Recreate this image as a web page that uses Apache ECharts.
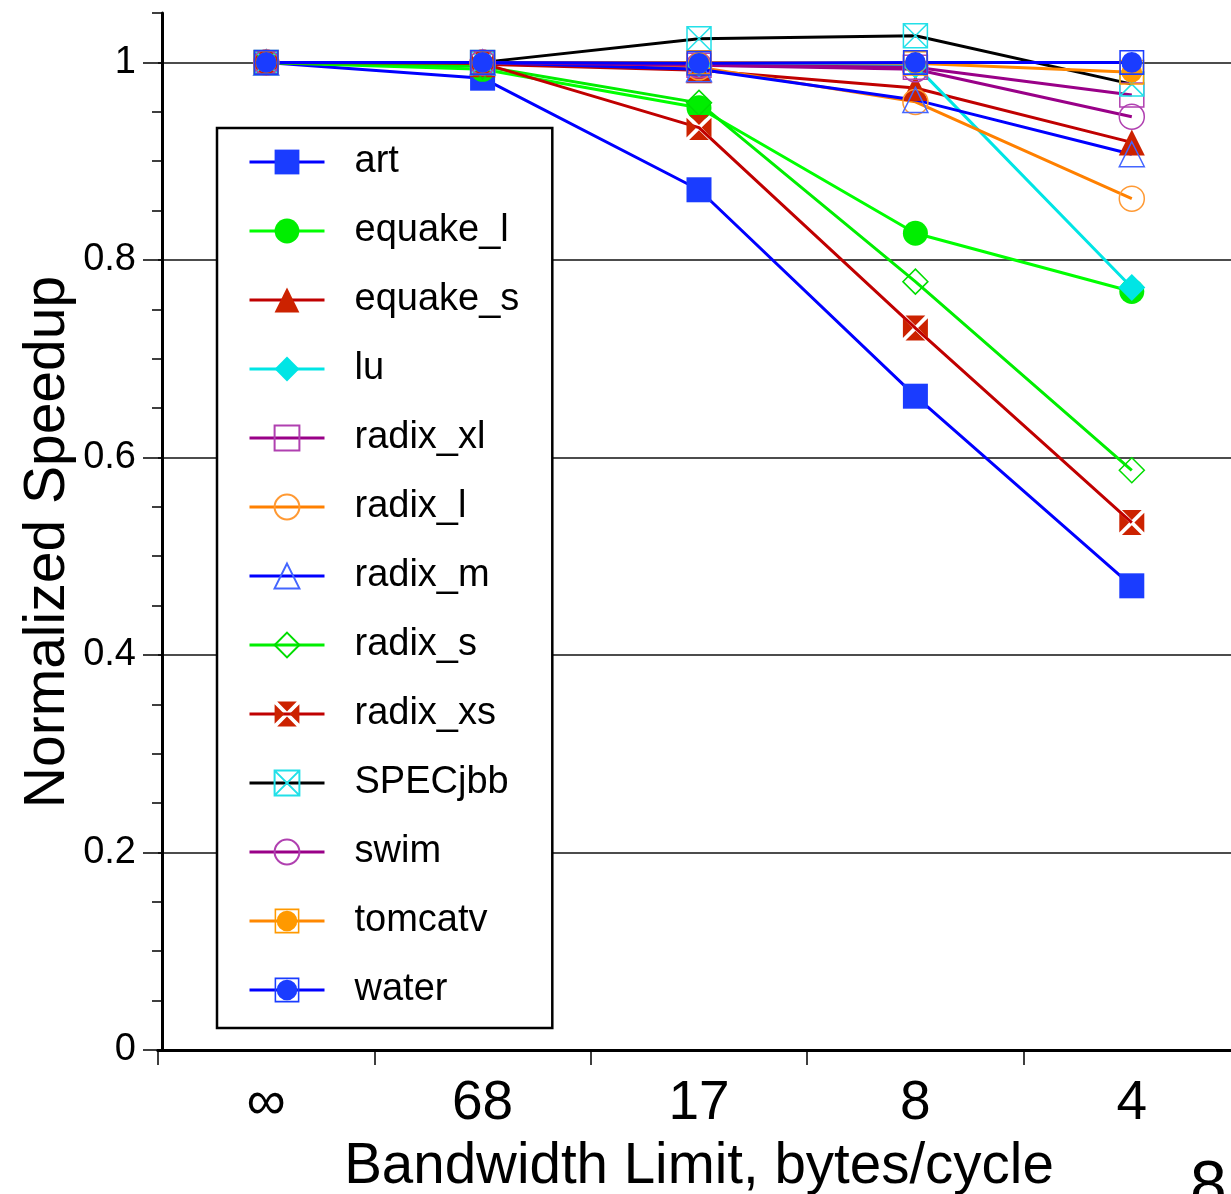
<!DOCTYPE html>
<html>
<head>
<meta charset="utf-8">
<script src="https://cdn.jsdelivr.net/npm/echarts@6/dist/echarts.min.js"></script>
<style>
html, body { margin: 0; padding: 0; background: #fff; overflow: hidden; }
#container { width: 1262px; height: 1194px; }
</style>
</head>
<body>
<div id="container"></div>
<script>
// bandwidth limits (bytes/cycle)
var categories = ['∞', '68', '17', '8', '4'];

// normalized speedup per benchmark
var art      = [1, 0.984, 0.871, 0.662, 0.470];
var equake_l = [1, 0.993, 0.954, 0.827, 0.768];
var equake_s = [1, 0.998, 0.992, 0.974, 0.919];
var lu       = [1, 1.000, 0.998, 0.997, 0.772];
var radix_xl = [1, 1.000, 0.997, 0.995, 0.967];
var radix_l  = [1, 1.000, 0.995, 0.960, 0.862];
var radix_m  = [1, 1.000, 0.993, 0.962, 0.907];
var radix_s  = [1, 0.996, 0.959, 0.778, 0.587];
var radix_xs = [1, 0.999, 0.934, 0.731, 0.534];
var specjbb  = [1, 1.000, 1.024, 1.027, 0.978];
var swim     = [1, 1.000, 0.997, 0.993, 0.945];
var tomcatv  = [1, 1.000, 1.000, 0.999, 0.990];
var water    = [1, 1.000, 0.999, 1.000, 1.000];

var yTicks = [0, 0.2, 0.4, 0.6, 0.8, 1];

var FONT = 'Liberation Sans, Arial, Helvetica, sans-serif';
var NONE = 'rgba(0,0,0,0)';

// custom marker shapes
var XS_PATH = 'path://M2.5 0H21.5L12 9.5Z M2.5 24H21.5L12 14.5Z M0 2.5V21.5L9.5 12Z M24 2.5V21.5L14.5 12Z';
var BOXX_PATH = 'path://M0 0H24V24H0Z M0 0L24 24 M24 0L0 24';
var BOXDOT_PATH = 'path://M0 0H24V24H0Z M1.5 1.5V22.5H22.5V1.5Z M12 2A10 10 0 1 0 12 22A10 10 0 1 0 12 2Z';

function mk(name, data, lineColor, symbol, size, fill, border) {
    return {
        name: name,
        type: 'line',
        data: data,
        symbol: symbol,
        symbolSize: size,
        showAllSymbol: true,
        yAxisIndex: 1,
        lineStyle: { color: lineColor, width: 3 },
        itemStyle: {
            color: fill,
            borderColor: border || fill,
            borderWidth: border ? 1.5 : 0
        },
        emphasis: { disabled: true }
    };
}

var series = [
    mk('art', art, '#0000ff', 'rect', 25, '#1a3cff'),
    mk('equake_l', equake_l, '#00ff00', 'circle', 25, '#00ee00'),
    mk('equake_s', equake_s, '#c00000', 'triangle', 26, '#cc2200'),
    mk('lu', lu, '#00e5e5', 'diamond', 27, '#00e5e5'),
    mk('radix_xl', radix_xl, '#990088', 'rect', 24, NONE, '#b040b0'),
    mk('radix_l', radix_l, '#ff8000', 'circle', 25, NONE, '#ff9933'),
    mk('radix_m', radix_m, '#0000ff', 'triangle', 25, NONE, '#4466ff'),
    mk('radix_s', radix_s, '#00ee00', 'diamond', 25, NONE, '#00dd00'),
    mk('radix_xs', radix_xs, '#c00000', XS_PATH, 25, '#cc2200'),
    mk('SPECjbb', specjbb, '#000000', BOXX_PATH, 24, NONE, '#22e0e8'),
    mk('swim', swim, '#990088', 'circle', 25, NONE, '#b040b0'),
    mk('tomcatv', tomcatv, '#ff8800', BOXDOT_PATH, 25, '#ff9900'),
    mk('water', water, '#0000ff', BOXDOT_PATH, 25, '#1a3cff')
];

var myChart = echarts.init(document.getElementById('container'));
var option = {
    animation: false,
    backgroundColor: '#fff',
    textStyle: { fontFamily: FONT, color: '#000' },
    grid: { left: 158, top: 13, width: 1082, height: 1037, show: false, outerBoundsMode: 'none', containLabel: false },
    legend: {
        orient: 'vertical',
        left: 217, top: 128,
        padding: [15, 33, 19, 31],
        backgroundColor: '#fff',
        borderColor: '#000',
        borderWidth: 2.5,
        borderRadius: 0,
        itemWidth: 75,
        itemHeight: 31,
        itemGap: 31,
        selectedMode: false,
        lineStyle: { width: 3 },
        textStyle: { fontFamily: FONT, fontSize: 38, color: '#000', padding: [0, 0, 0, 25] },
        data: series.map(function (s) { return s.name; })
    },
    xAxis: [{
        type: 'category',
        data: categories,
        boundaryGap: true,
        name: 'Bandwidth Limit, bytes/cycle',
        nameLocation: 'middle',
        nameGap: 89,
        nameTextStyle: { fontFamily: FONT, fontSize: 56.5, color: '#000' },
        axisLine: { lineStyle: { color: '#000', width: 3 } },
        axisTick: { show: true, length: 15, lineStyle: { color: '#000', width: 1.5 } },
        axisLabel: { fontFamily: FONT, fontSize: 55, color: '#000', margin: 26 },
        splitLine: { show: false }
    }, {
        type: 'category',
        data: categories,
        position: 'top',
        axisLine: { lineStyle: { color: '#000', width: 3 } },
        axisTick: { show: false },
        axisLabel: { show: false },
        splitLine: { show: false }
    }],
    yAxis: [{
        type: 'value',
        min: 0, max: 1.05, interval: 0.05,
        position: 'left',
        offset: -4,
        axisLine: { show: true, lineStyle: { color: '#000', width: 3 } },
        axisTick: { show: true, length: 10, lineStyle: { color: '#000', width: 1.5 } },
        axisLabel: { show: false },
        splitLine: { show: false }
    }, {
        type: 'value',
        min: 0, max: 1.05, interval: 0.2,
        position: 'left',
        offset: -4,
        axisLine: { show: false },
        axisTick: { show: true, length: 19, customValues: yTicks, lineStyle: { color: '#000', width: 1.5 } },
        axisLabel: { fontFamily: FONT, fontSize: 38, color: '#000', margin: 26, customValues: yTicks },
        splitLine: { show: true, lineStyle: { color: '#111', width: 1.5 } }
    }],
    graphic: [{
        type: 'text',
        x: 48, y: 542,
        rotation: Math.PI / 2,
        style: {
            text: 'Normalized Speedup', font: '57px ' + FONT, fill: '#000',
            align: 'center', verticalAlign: 'middle'
        }
    }, {
        type: 'text',
        left: 1190, top: 1156,
        style: { text: '8', font: '66px ' + FONT, fill: '#000' }
    }],
    series: series
};
myChart.setOption(option);
</script>
</body>
</html>
